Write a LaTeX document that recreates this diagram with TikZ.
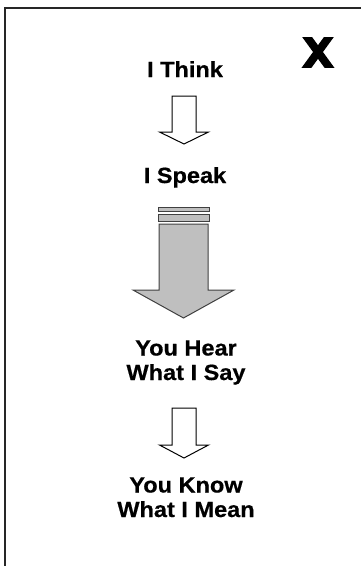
\documentclass[tikz,border=0pt]{standalone}
\usepackage{fontspec}
\newfontfamily\lblfont{Liberation Sans Bold}[FakeStretch=1.07,FakeBold=0.6]
\tikzset{
  lbl/.style={font=\lblfont\fontsize{22}{24.5}\selectfont, inner sep=0pt, anchor=base, align=center},
  smallarrow/.style={draw=black, line width=1pt, fill=white, line join=miter},
  bigarrow/.style={draw=black!75, line width=1pt, fill=black!25, line join=miter},
  frameline/.style={draw=black!85, line width=2pt}
}
\begin{document}
\begin{tikzpicture}[x=1pt,y=-1pt]
\useasboundingbox (0,0) rectangle (361,566);
% frame
\draw[frameline] (5,566) -- (5,8) -- (361,8);
% close mark
\begin{scope}
  \clip (300,37) rectangle (336,67);
  \draw[line width=8pt] (302,30) -- (334,74);
  \draw[line width=8pt] (334,30) -- (302,74);
\end{scope}
% labels
\node[lbl] (think) at (185,77) {I Think};
\node[lbl] (speak) at (185,183) {I Speak};
\node[lbl] (hear) at (186,380) {You Hear\\What I Say};
\node[lbl] (know) at (186,517) {You Know\\What I Mean};
% arrow 1
\draw[smallarrow] (172,96) -- (196,96) -- (196,132) -- (208.5,132) -- (184,144) -- (159.5,132) -- (172,132) -- cycle;
% big arrow
\draw[bigarrow] (158,207) rectangle (209,211);
\draw[bigarrow] (158,214) rectangle (209,221);
\draw[bigarrow] (159,224) -- (208,224) -- (208,290) -- (234,290) -- (183.5,318) -- (133,290) -- (159,290) -- cycle;
% arrow 2
\draw[smallarrow] (172,408) -- (196,408) -- (196,445) -- (208.5,445) -- (184,458) -- (159.5,445) -- (172,445) -- cycle;
\end{tikzpicture}
\end{document}
